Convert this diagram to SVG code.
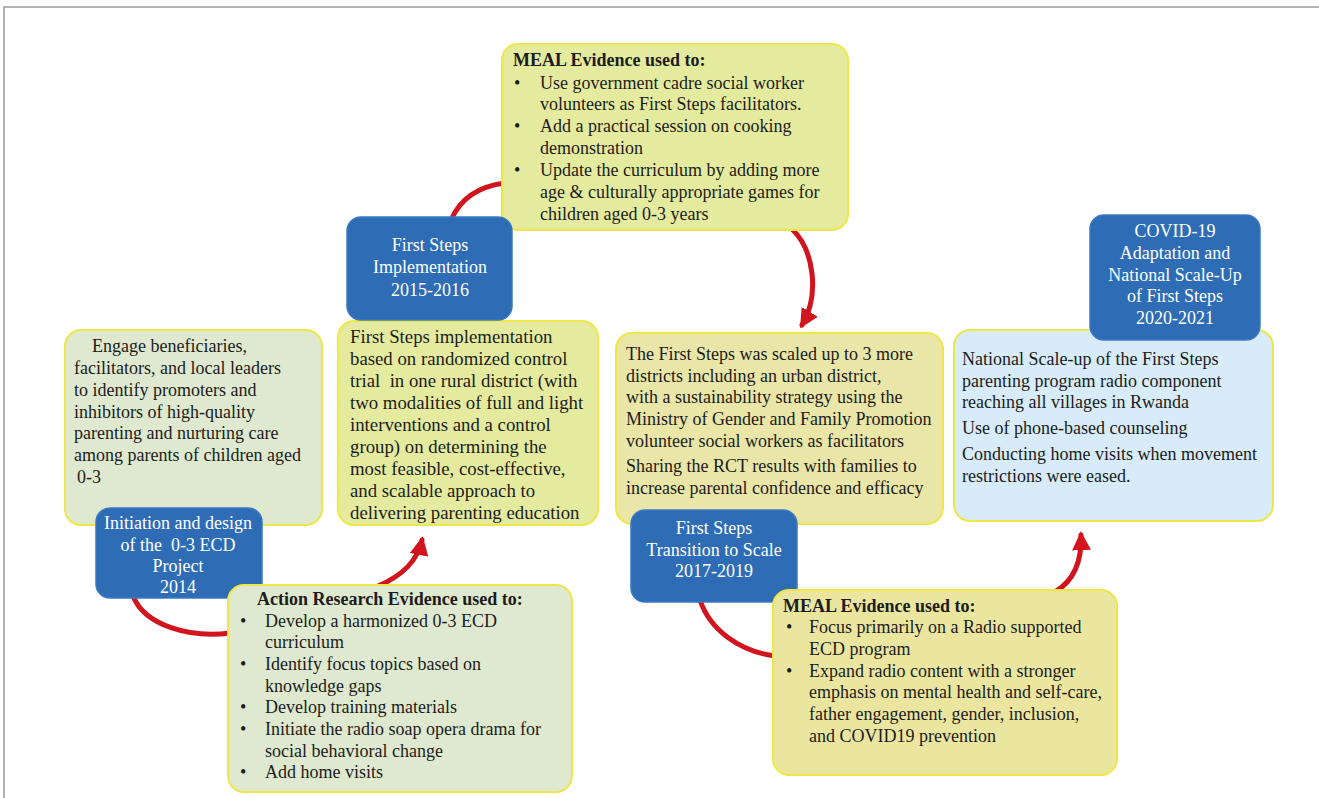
<svg xmlns="http://www.w3.org/2000/svg" width="1319" height="798" viewBox="0 0 1319 798">
<defs>
<style>
text{font-family:'Liberation Serif','Times New Roman',serif}
.t{font-size:18px;fill:#1c1c1c}
.m{font-size:18.8px}
.b{font-weight:bold}
.w{font-size:18px;fill:#ffffff;text-anchor:middle}
.box{stroke:#efe64a;stroke-width:2}
.blue{fill:#2e6db5;stroke:#3b78c2;stroke-width:1.5}
.con{fill:none;stroke:#d1141d;stroke-width:5;stroke-linecap:round}
</style>
<marker id="ah" viewBox="0 0 10 10" refX="8" refY="5" markerWidth="19" markerHeight="19" markerUnits="userSpaceOnUse" orient="auto">
<path d="M0,0 L10,5 L0,10 z" fill="#d1141d"/>
</marker>
</defs>
<rect x="0" y="0" width="1319" height="798" fill="#ffffff"/>
<path d="M4 798 L4 7 L1319 7" fill="none" stroke="#9a9a9a" stroke-width="1.5"/>

<g id="connectors">
<path class="con" d="M505 183 Q465 188 451 220"/>
<path class="con" d="M792 229 C814 250 820 295 802 325" marker-end="url(#ah)"/>
<path class="con" d="M133 596 C145 626 190 638 230 633"/>
<path class="con" d="M378 586 C402 576 418 560 422 540" marker-end="url(#ah)"/>
<path class="con" d="M700 600 C710 630 740 652 776 656"/>
<path class="con" d="M1055 592 C1075 580 1082 560 1081 535" marker-end="url(#ah)"/>
</g>

<g id="meal-top">
<rect class="box" x="502" y="44" width="346" height="186" rx="16" fill="#e5eb9e"/>
<text class="t b" x="513" y="66">MEAL Evidence used to:</text>
<text class="t" x="514" y="89">•</text>
<text class="t" x="540" y="89">Use government cadre social worker</text>
<text class="t" x="540" y="110">volunteers as First Steps facilitators.</text>
<text class="t" x="514" y="132">•</text>
<text class="t" x="540" y="132">Add a practical session on cooking</text>
<text class="t" x="540" y="154">demonstration</text>
<text class="t" x="514" y="176">•</text>
<text class="t" x="540" y="176">Update the curriculum by adding more</text>
<text class="t" x="540" y="198">age &amp; culturally appropriate games for</text>
<text class="t" x="540" y="220">children aged 0-3 years</text>
</g>

<g id="engage">
<rect class="box" x="65" y="330" width="257" height="195" rx="16" fill="#dfe9cf"/>
<text class="t" x="92" y="352">Engage beneficiaries,</text>
<text class="t" x="74" y="374">facilitators, and local leaders</text>
<text class="t" x="74" y="396">to identify promoters and</text>
<text class="t" x="74" y="418">inhibitors of high-quality</text>
<text class="t" x="74" y="439">parenting and nurturing care</text>
<text class="t" x="74" y="461">among parents of children aged</text>
<text class="t" x="77" y="483">0-3</text>
</g>

<g id="initiation">
<rect class="blue" x="96" y="508" width="166" height="90" rx="14"/>
<text class="w" x="178" y="529">Initiation and design</text>
<text class="w" x="178" y="551" xml:space="preserve">of the  0-3 ECD</text>
<text class="w" x="178" y="572">Project</text>
<text class="w" x="178" y="593">2014</text>
</g>

<g id="implementation-text">
<rect class="box" x="338" y="321" width="260" height="204" rx="16" fill="#e5eb9e"/>
<text class="t m" x="350" y="343">First Steps implementation</text>
<text class="t m" x="350" y="365">based on randomized control</text>
<text class="t m" x="350" y="387" xml:space="preserve">trial  in one rural district (with</text>
<text class="t m" x="350" y="409">two modalities of full and light</text>
<text class="t m" x="350" y="431">interventions and a control</text>
<text class="t m" x="350" y="453">group) on determining the</text>
<text class="t m" x="350" y="475">most feasible, cost-effective,</text>
<text class="t m" x="350" y="497">and scalable approach to</text>
<text class="t m" x="350" y="519">delivering parenting education</text>
</g>

<g id="implementation">
<rect class="blue" x="347" y="217" width="165" height="103" rx="14"/>
<text class="w" x="430" y="251">First Steps</text>
<text class="w" x="430" y="273">Implementation</text>
<text class="w" x="430" y="296">2015-2016</text>
</g>

<g id="scale-text">
<rect class="box" x="616" y="333" width="327" height="191" rx="16" fill="#e9e6a7"/>
<text class="t" x="626" y="360">The First Steps was scaled up to 3 more</text>
<text class="t" x="626" y="382">districts including an urban district,</text>
<text class="t" x="626" y="403">with a sustainability strategy using the</text>
<text class="t" x="626" y="425">Ministry of Gender and Family Promotion</text>
<text class="t" x="626" y="447">volunteer social workers as facilitators</text>
<text class="t" x="626" y="472">Sharing the RCT results with families to</text>
<text class="t" x="626" y="494">increase parental confidence and efficacy</text>
</g>

<g id="transition">
<rect class="blue" x="631" y="510" width="166" height="92" rx="14"/>
<text class="w" x="714" y="534">First Steps</text>
<text class="w" x="714" y="556">Transition to Scale</text>
<text class="w" x="714" y="577">2017-2019</text>
</g>

<g id="national-text">
<rect class="box" x="954" y="330" width="319" height="191" rx="16" fill="#d7ebf8"/>
<text class="t" x="962" y="365">National Scale-up of the First Steps</text>
<text class="t" x="962" y="387">parenting program radio component</text>
<text class="t" x="962" y="408">reaching all villages in Rwanda</text>
<text class="t" x="962" y="434">Use of phone-based counseling</text>
<text class="t" x="962" y="460">Conducting home visits when movement</text>
<text class="t" x="962" y="482">restrictions were eased.</text>
</g>

<g id="covid">
<rect class="blue" x="1090" y="215" width="170" height="125" rx="14"/>
<text class="w" x="1175" y="237">COVID-19</text>
<text class="w" x="1175" y="259">Adaptation and</text>
<text class="w" x="1175" y="281">National Scale-Up</text>
<text class="w" x="1175" y="302">of First Steps</text>
<text class="w" x="1175" y="324">2020-2021</text>
</g>

<g id="action-research">
<rect class="box" x="228" y="585" width="344" height="207" rx="16" fill="#dfe9cf"/>
<text class="t b" x="257" y="605">Action Research Evidence used to:</text>
<text class="t" x="240" y="627">•</text>
<text class="t" x="265" y="627">Develop a harmonized 0-3 ECD</text>
<text class="t" x="265" y="648">curriculum</text>
<text class="t" x="240" y="670">•</text>
<text class="t" x="265" y="670">Identify focus topics based on</text>
<text class="t" x="265" y="692">knowledge gaps</text>
<text class="t" x="240" y="713">•</text>
<text class="t" x="265" y="713">Develop training materials</text>
<text class="t" x="240" y="735">•</text>
<text class="t" x="265" y="735">Initiate the radio soap opera drama for</text>
<text class="t" x="265" y="757">social behavioral change</text>
<text class="t" x="240" y="778">•</text>
<text class="t" x="265" y="778">Add home visits</text>
</g>

<g id="meal-bottom">
<rect class="box" x="773" y="590" width="344" height="185" rx="16" fill="#ebe69f"/>
<text class="t b" x="783" y="612">MEAL Evidence used to:</text>
<text class="t" x="786" y="633">•</text>
<text class="t" x="809" y="633">Focus primarily on a Radio supported</text>
<text class="t" x="809" y="655">ECD program</text>
<text class="t" x="786" y="677">•</text>
<text class="t" x="809" y="677">Expand radio content with a stronger</text>
<text class="t" x="809" y="698">emphasis on mental health and self-care,</text>
<text class="t" x="809" y="720">father engagement, gender, inclusion,</text>
<text class="t" x="809" y="742">and COVID19 prevention</text>
</g>
</svg>
